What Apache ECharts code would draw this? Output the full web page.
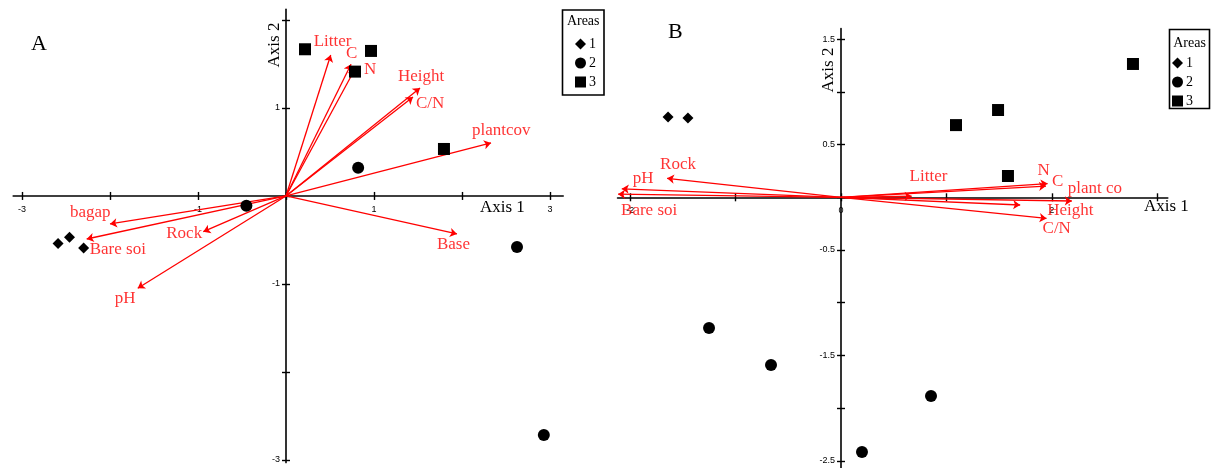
<!DOCTYPE html>
<html>
<head>
<meta charset="utf-8">
<script src="https://cdn.jsdelivr.net/npm/echarts@6/dist/echarts.min.js"></script>
<style>
  html, body { margin: 0; padding: 0; background: #fff; }
  #chart { width: 1215px; height: 468px; }
</style>
</head>
<body>
<div id="chart"></div>
<script>
// ---- Panel A: site scores by area ----
const scoresA1 = [[-2.59, -0.54], [-2.46, -0.47], [-2.30, -0.59]];
const scoresA2 = [[-0.45, -0.11], [0.82, 0.32], [2.625, -0.58], [2.93, -2.716]];
const scoresA3 = [[0.216, 1.667], [0.784, 1.413], [0.966, 1.648], [1.795, 0.534]];

// ---- Panel A: environmental vectors ----
const vectorNamesA = ['Litter', 'C', 'N', 'Height', 'C/N', 'plantcov', 'Base', 'bagap', 'Bare soi', 'Rock', 'pH'];
const vectorXA = [0.508, 0.739, 0.784, 1.523, 1.443, 2.33, 1.943, -2.0, -2.265, -0.94, -1.685];
const vectorYA = [1.602, 1.497, 1.443, 1.227, 1.125, 0.602, -0.432, -0.318, -0.489, -0.406, -1.049];

// ---- Panel B: site scores by area ----
const scoresB1 = [[-1.641, 0.762], [-1.452, 0.752]];
const scoresB2 = [[-1.252, -1.24], [-0.664, -1.591], [0.854, -1.885], [0.199, -2.417]];
const scoresB3 = [[2.77, 1.265], [1.49, 0.828], [1.091, 0.685], [1.584, 0.202]];

// ---- Panel B: environmental vectors ----
const vectorNamesB = ['Rock', 'pH', 'Bare soi', 'Litter', 'N', 'C', 'plant co', 'Height', 'C/N'];
const vectorXB = [-1.65, -2.08, -2.115, 0.67, 1.96, 1.945, 2.19, 1.70, 1.95];
const vectorYB = [0.18, 0.08, 0.03, 0.01, 0.13, 0.107, -0.035, -0.073, -0.20];

// ---- Tick values ----
const ticksXA = [-3, -2, -1, 0, 1, 2, 3];
const labelsXA = [-3, -1, 1, 3];
const ticksYA = [-3, -2, -1, 0, 1, 2];
const labelsYA = [-3, -1, 1];
const ticksXB = [-2, -1, 0, 1, 2, 3];
const labelsXB = [-2, 0, 2];
const ticksYB = [-2.5, -2, -1.5, -1, -0.5, 0, 0.5, 1, 1.5];
const labelsYB = [-2.5, -1.5, -0.5, 0.5, 1.5];

const areaNames = ['1', '2', '3'];

// Label placement next to each vector tip (pixel offsets: dx, dy)
const tipLabelOffsetA = {
  'Litter': [-17, -13], 'C': [-5, -11], 'N': [9, 1], 'Height': [-22, -11],
  'C/N': [3, 7], 'plantcov': [-19, -12], 'Base': [-20, 11], 'bagap': [-40, -11],
  'Bare soi': [3, 11], 'Rock': [-37, 2], 'pH': [-23, 10]
};
const tipLabelOffsetB = {
  'Rock': [-7, -14], 'pH': [11, -10], 'Bare soi': [3, 16], 'Litter': [-2, -20],
  'N': [-10, -13], 'C': [6, -4], 'plant co': [-4, -12], 'Height': [27, 6], 'C/N': [-4, 10]
};

const SERIF = '"Liberation Serif", "DejaVu Serif", serif';
const SANS = '"Liberation Sans", Arial, sans-serif';
const RED = '#ff0000';

// Plot frames and value ranges of the two panels
const gridA = { left: 13.2, top: 9.4, width: 550, height: 453.2 };
const gridB = { left: 617.55, top: 28.66, width: 550.2, height: 444.8 };
const rangeA = { xMin: -3.1, xMax: 3.15, yMin: -3.03, yMax: 2.12 };
const rangeB = { xMin: -2.12, xMax: 3.1, yMin: -2.62, yMax: 1.6 };

// Build the axes of one panel so that both axis lines cross at the origin
function panelAxes(gridIndex, grid, range, tx, lx, ty, ly) {
  const xShift = -grid.height * (0 - range.yMin) / (range.yMax - range.yMin);
  const yShift = -grid.width * (0 - range.xMin) / (range.xMax - range.xMin);
  const tickStyle = { color: '#000', width: 1.4 };
  const labelStyle = { color: '#000', fontFamily: SANS, fontSize: 9 };
  const make = (dim, isMain) => {
    const isX = dim === 'x';
    return {
      type: 'value', gridIndex,
      min: isX ? range.xMin : range.yMin,
      max: isX ? range.xMax : range.yMax,
      position: isX ? 'bottom' : 'left',
      offset: isX ? xShift : yShift,
      axisLine: { show: isMain, onZero: false, lineStyle: { color: '#000', width: 1.6 } },
      axisTick: { show: true, inside: !isMain, length: 4, customValues: isX ? tx : ty, lineStyle: tickStyle },
      axisLabel: Object.assign({ show: isMain, customValues: isX ? lx : ly, margin: isX ? 9 : 6 }, labelStyle),
      splitLine: { show: false }
    };
  };
  return { x: [make('x', true), make('x', false)], y: [make('y', true), make('y', false)] };
}

function vectorSeries(names, xs, ys, xIdx, yIdx, offsets) {
  const lines = names.map((n, i) => ({ coords: [[0, 0], [xs[i], ys[i]]] }));
  const tips = names.map((n, i) => ({
    name: n, value: [xs[i], ys[i]],
    label: { position: offsets[n] }
  }));
  return [
    {
      type: 'lines', coordinateSystem: 'cartesian2d', xAxisIndex: xIdx, yAxisIndex: yIdx,
      silent: true, z: 2,
      symbol: ['none', 'arrow'], symbolSize: 7,
      lineStyle: { color: RED, width: 1.3, opacity: 1 },
      data: lines
    },
    {
      type: 'scatter', xAxisIndex: xIdx, yAxisIndex: yIdx, silent: true, z: 3,
      symbolSize: 0,
      label: {
        show: true, formatter: p => p.name, align: 'left', verticalAlign: 'middle',
        color: RED, fontFamily: SERIF, fontSize: 17
      },
      data: tips
    }
  ];
}

const symbols = ['diamond', 'circle', 'rect'];
const sizes = [11, 12, 12];

function scoreSeries(sets, xIdx, yIdx) {
  return sets.map((pts, k) => ({
    name: areaNames[k], type: 'scatter', xAxisIndex: xIdx, yAxisIndex: yIdx, z: 5,
    symbol: symbols[k], symbolSize: sizes[k],
    itemStyle: { color: '#000', opacity: 1 },
    data: pts
  }));
}

const axesA = panelAxes(0, gridA, rangeA, ticksXA, labelsXA, ticksYA, labelsYA);
const axesB = panelAxes(1, gridB, rangeB, ticksXB, labelsXB, ticksYB, labelsYB);

const legendCommon = {
  orient: 'vertical', padding: 0, itemWidth: 11, itemHeight: 11, itemGap: 5,
  selectedMode: false,
  textStyle: { fontFamily: SERIF, fontSize: 14, color: '#000', padding: [0, 0, 0, -2] },
  data: areaNames.map((n, k) => ({ name: n, icon: symbols[k], itemStyle: { opacity: 1 } }))
};

const option = {
  animation: false,
  backgroundColor: '#fff',
  grid: [
    Object.assign({ containLabel: false, outerBoundsMode: 'none' }, gridA),
    Object.assign({ containLabel: false, outerBoundsMode: 'none' }, gridB)
  ],
  xAxis: axesA.x.concat(axesB.x),
  yAxis: axesA.y.concat(axesB.y),
  legend: [
    Object.assign({ left: 575, top: 37 }, legendCommon),
    Object.assign({ left: 1172, top: 56 }, legendCommon)
  ],
  graphic: [
    { type: 'text', left: 31, top: 33, style: { text: 'A', font: '22px ' + SERIF, fill: '#000' } },
    { type: 'text', left: 668, top: 21, style: { text: 'B', font: '22px ' + SERIF, fill: '#000' } },
    { type: 'text', x: 480, y: 208, style: { text: 'Axis 1', font: '17px ' + SERIF, fill: '#000', verticalAlign: 'middle' } },
    { type: 'text', x: 275, y: 45, rotation: Math.PI / 2,
      style: { text: 'Axis 2', font: '17px ' + SERIF, fill: '#000', align: 'center', verticalAlign: 'middle' } },
    { type: 'text', x: 1144, y: 207, style: { text: 'Axis 1', font: '17px ' + SERIF, fill: '#000', verticalAlign: 'middle' } },
    { type: 'text', x: 829, y: 70, rotation: Math.PI / 2,
      style: { text: 'Axis 2', font: '17px ' + SERIF, fill: '#000', align: 'center', verticalAlign: 'middle' } },
    // legend frames and titles
    { type: 'rect', shape: { x: 562.5, y: 10, width: 41.5, height: 85 }, style: { fill: 'none', stroke: '#000', lineWidth: 1.6 } },
    { type: 'text', x: 583.2, y: 21, style: { text: 'Areas', font: '14px ' + SERIF, fill: '#000', align: 'center', verticalAlign: 'middle' } },
    { type: 'rect', shape: { x: 1169.5, y: 29.5, width: 40, height: 79 }, style: { fill: 'none', stroke: '#000', lineWidth: 1.6 } },
    { type: 'text', x: 1189.5, y: 43, style: { text: 'Areas', font: '14px ' + SERIF, fill: '#000', align: 'center', verticalAlign: 'middle' } }
  ],
  series: [].concat(
    vectorSeries(vectorNamesA, vectorXA, vectorYA, 0, 0, tipLabelOffsetA),
    scoreSeries([scoresA1, scoresA2, scoresA3], 0, 0),
    vectorSeries(vectorNamesB, vectorXB, vectorYB, 2, 2, tipLabelOffsetB),
    scoreSeries([scoresB1, scoresB2, scoresB3], 2, 2)
  )
};

const chart = echarts.init(document.getElementById('chart'), null, { renderer: 'canvas' });
chart.setOption(option);
</script>
</body>
</html>
